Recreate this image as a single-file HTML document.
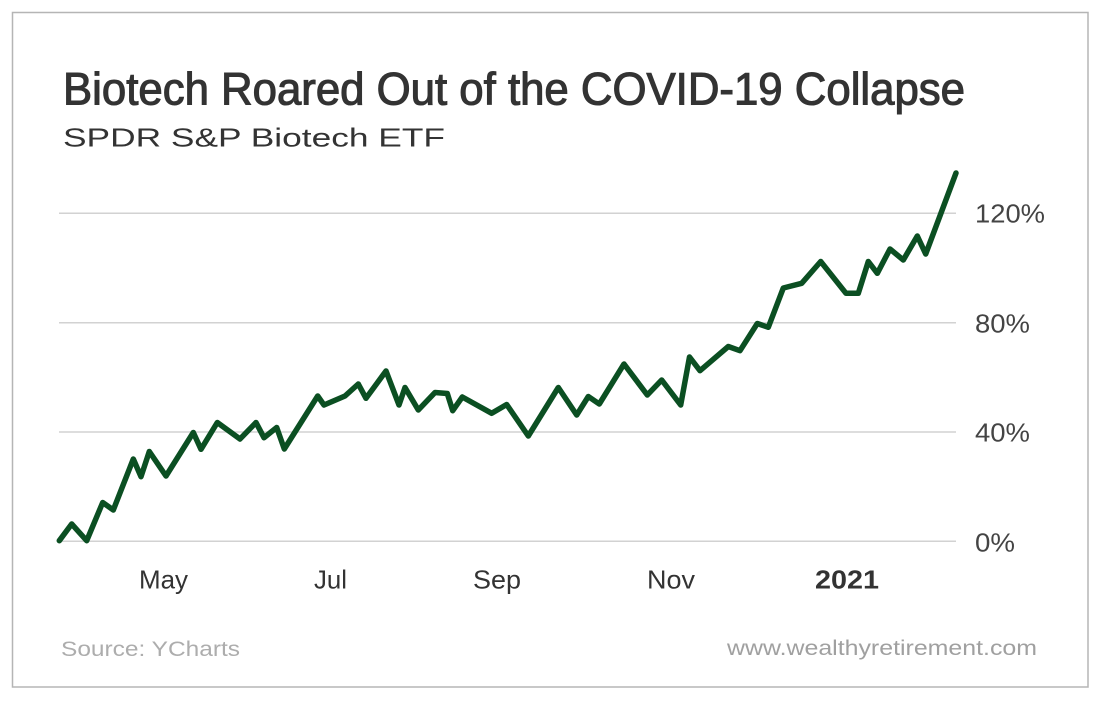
<!DOCTYPE html>
<html>
<head>
<meta charset="utf-8">
<style>
  html,body{margin:0;padding:0;background:#fff;}
  svg{display:block;}
  text{font-family:"Liberation Sans", Arial, sans-serif;}
</style>
</head>
<body>
<svg width="1101" height="701" viewBox="0 0 1101 701" xmlns="http://www.w3.org/2000/svg">
  <rect x="0" y="0" width="1101" height="701" fill="#ffffff"/>
  <rect x="12.5" y="12.5" width="1075.5" height="674.5" fill="none" stroke="#b5b5b5" stroke-width="1.5"/>

  <text x="63" y="104.3" font-size="45" fill="#333333" stroke="#333333" stroke-width="1.1" textLength="902" lengthAdjust="spacingAndGlyphs">Biotech Roared Out of the COVID-19 Collapse</text>
  <text x="63" y="146.7" font-size="26" fill="#333333" textLength="382" lengthAdjust="spacingAndGlyphs">SPDR S&amp;P Biotech ETF</text>

  <g stroke="#d2d2d2" stroke-width="1.5">
    <line x1="59" y1="213.3" x2="956" y2="213.3"/>
    <line x1="59" y1="322.7" x2="956" y2="322.7"/>
    <line x1="59" y1="432" x2="956" y2="432"/>
    <line x1="59" y1="541.3" x2="956" y2="541.3"/>
  </g>

  <g font-size="26" fill="#444444">
    <text x="975" y="222.3" textLength="70" lengthAdjust="spacingAndGlyphs">120%</text>
    <text x="975" y="332.7" textLength="55" lengthAdjust="spacingAndGlyphs">80%</text>
    <text x="975" y="441.7" textLength="55" lengthAdjust="spacingAndGlyphs">40%</text>
    <text x="975" y="551.7" textLength="40" lengthAdjust="spacingAndGlyphs">0%</text>
  </g>

  <g font-size="26" fill="#333333">
    <text x="139" y="588.3" textLength="49" lengthAdjust="spacingAndGlyphs">May</text>
    <text x="314" y="588.3" textLength="33" lengthAdjust="spacingAndGlyphs">Jul</text>
    <text x="473" y="588.3" textLength="48" lengthAdjust="spacingAndGlyphs">Sep</text>
    <text x="647" y="588.3" textLength="48" lengthAdjust="spacingAndGlyphs">Nov</text>
    <text x="815" y="588.3" font-weight="bold" textLength="64" lengthAdjust="spacingAndGlyphs">2021</text>
  </g>

  <polyline fill="none" stroke="#0b4f22" stroke-width="5.5" stroke-linejoin="round" stroke-linecap="round"
    points="59.3,540.7 71.7,524 86.7,540.7 102.7,502.5 113.3,510 133.3,459 141,476.7 149.3,451.5 166,476 193.3,432.5 201,449.3 217.3,422.5 240,439 256,422.5 264,437.7 276.7,427.5 284.3,449 317.7,396 324,405 345,396 358.3,384 366,398.3 386,371 399,405 405,387.5 418.3,410 435,392.5 447.3,393.5 452.7,410.7 462.3,397 491.7,413.3 506.7,404.5 528.3,436 558.3,387.5 576.7,415 588.3,396.5 599.3,404 624,364 647.3,395 661.7,380 680.7,405 689.5,357 700,370.7 728.3,346.5 740,350.7 757.3,323.5 768.3,327.3 783.3,288 801.7,283.3 820.7,261.5 846,293.3 858.3,293.3 868.3,261.5 877.3,273.3 890,249 903.3,260 917.3,236 925.7,254 956,173"/>

  <text x="61" y="656" font-size="21" fill="#adadad" textLength="179" lengthAdjust="spacingAndGlyphs">Source: YCharts</text>
  <text x="727" y="655" font-size="21" fill="#a0a0a0" textLength="310" lengthAdjust="spacingAndGlyphs">www.wealthyretirement.com</text>
</svg>
</body>
</html>
